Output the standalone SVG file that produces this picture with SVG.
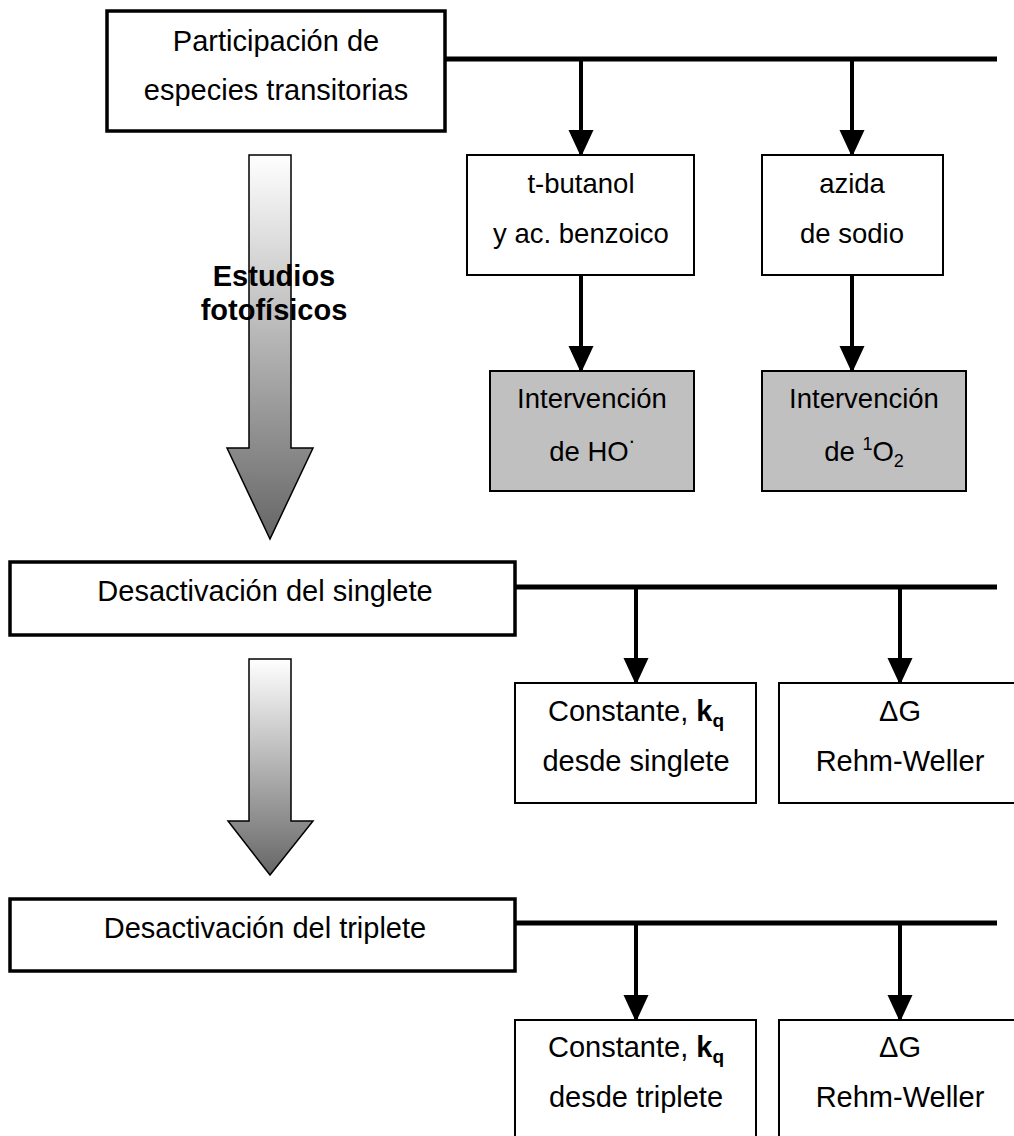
<svg xmlns="http://www.w3.org/2000/svg" width="1014" height="1136" viewBox="0 0 1014 1136">
  <defs>
    <linearGradient id="fade" x1="0" y1="0" x2="0" y2="1">
      <stop offset="0" stop-color="#ffffff"/>
      <stop offset="1" stop-color="#666666"/>
    </linearGradient>
    <marker id="head" viewBox="0 0 25 27" refX="25" refY="12.5" markerWidth="25" markerHeight="27" markerUnits="userSpaceOnUse" orient="auto">
      <path d="M0,0 L27,12.5 L0,25 Z" fill="#000"/>
    </marker>
  </defs>
  <style>
    text { font-family: "Liberation Sans", Arial, sans-serif; fill: #000; }
    .t29 { font-size: 29px; }
    .t27 { font-size: 27.5px; }
    .b { font-weight: bold; }
    .main { fill: #fff; stroke: #000; stroke-width: 3.5; }
    .sub { fill: #fff; stroke: #000; stroke-width: 2; }
    .res { fill: #c0c0c0; stroke: #000; stroke-width: 2; }
    .bus { stroke: #000; stroke-width: 5; fill: none; }
    .drop { stroke: #000; stroke-width: 4; fill: none; marker-end: url(#head); }
    .flow { fill: url(#fade); stroke: #000; stroke-width: 1.5; }
  </style>

  <!-- connectors: horizontal buses and drop arrows -->
  <g id="connectors">
    <line class="bus" x1="445" y1="59" x2="997" y2="59"/>
    <line class="drop" x1="581" y1="59" x2="581" y2="155"/>
    <line class="drop" x1="852" y1="59" x2="852" y2="155"/>
    <line class="drop" x1="581" y1="275" x2="581" y2="371"/>
    <line class="drop" x1="852" y1="275" x2="852" y2="371"/>

    <line class="bus" x1="515" y1="587" x2="997" y2="587"/>
    <line class="drop" x1="636" y1="587" x2="636" y2="683"/>
    <line class="drop" x1="900" y1="587" x2="900" y2="683"/>

    <line class="bus" x1="515" y1="923" x2="997" y2="923"/>
    <line class="drop" x1="636" y1="923" x2="636" y2="1020"/>
    <line class="drop" x1="900" y1="923" x2="900" y2="1020"/>
  </g>

  <!-- shaded progress arrows -->
  <g id="flow1">
    <polygon class="flow" points="249,155 291,155 291,448 313,448 270,539 227,448 249,448"/>
    <text class="t29 b" x="274" y="286" text-anchor="middle">Estudios</text>
    <text class="t29 b" x="274" y="320" text-anchor="middle">fotofísicos</text>
  </g>
  <g id="flow2">
    <polygon class="flow" points="249,659 291,659 291,821 313,821 270,875 228,821 249,821"/>
  </g>

  <!-- section 1 -->
  <g id="transitorias">
    <rect class="main" x="107" y="11" width="338" height="120"/>
    <text class="t29" x="276" y="51" text-anchor="middle">Participación de</text>
    <text class="t29" x="276" y="100" text-anchor="middle">especies transitorias</text>
  </g>
  <g id="butanol">
    <rect class="sub" x="467" y="155" width="227" height="120"/>
    <text class="t27" x="581" y="193" text-anchor="middle">t-butanol</text>
    <text class="t27" x="581" y="243" text-anchor="middle">y ac. benzoico</text>
  </g>
  <g id="azida">
    <rect class="sub" x="762" y="155" width="181" height="120"/>
    <text class="t27" x="852" y="193" text-anchor="middle">azida</text>
    <text class="t27" x="852" y="243" text-anchor="middle">de sodio</text>
  </g>
  <g id="hidroxilo">
    <rect class="res" x="490" y="371" width="204" height="120"/>
    <text class="t27" x="592" y="408" text-anchor="middle">Intervención</text>
    <text class="t27" x="592" y="461" text-anchor="middle">de HO<tspan font-size="22" dy="-18">.</tspan></text>
  </g>
  <g id="singulete-oxigeno">
    <rect class="res" x="762" y="371" width="204" height="120"/>
    <text class="t27" x="864" y="408" text-anchor="middle">Intervención</text>
    <text class="t27" x="864" y="461" text-anchor="middle">de <tspan font-size="18" dy="-11">1</tspan><tspan dy="11">O</tspan><tspan font-size="18" dy="6">2</tspan></text>
  </g>

  <!-- section 2 -->
  <g id="singlete">
    <rect class="main" x="10" y="562" width="505" height="73"/>
    <text class="t29" x="265" y="601" text-anchor="middle">Desactivación del singlete</text>
  </g>
  <g id="kq-singlete">
    <rect class="sub" x="515" y="683" width="241" height="120"/>
    <text class="t29" x="636" y="721" text-anchor="middle">Constante, <tspan class="b">k</tspan><tspan class="b" font-size="19" dy="6">q</tspan></text>
    <text class="t29" x="636" y="771" text-anchor="middle">desde singlete</text>
  </g>
  <g id="dg-singlete">
    <rect class="sub" x="779" y="683" width="244" height="120"/>
    <text class="t29" x="900" y="721" text-anchor="middle">ΔG</text>
    <text class="t29" x="900" y="771" text-anchor="middle">Rehm-Weller</text>
  </g>

  <!-- section 3 -->
  <g id="triplete">
    <rect class="main" x="10" y="899" width="505" height="72"/>
    <text class="t29" x="265" y="938" text-anchor="middle">Desactivación del triplete</text>
  </g>
  <g id="kq-triplete">
    <rect class="sub" x="515" y="1020" width="241" height="130"/>
    <text class="t29" x="636" y="1057" text-anchor="middle">Constante, <tspan class="b">k</tspan><tspan class="b" font-size="19" dy="6">q</tspan></text>
    <text class="t29" x="636" y="1107" text-anchor="middle">desde triplete</text>
  </g>
  <g id="dg-triplete">
    <rect class="sub" x="779" y="1020" width="244" height="130"/>
    <text class="t29" x="900" y="1057" text-anchor="middle">ΔG</text>
    <text class="t29" x="900" y="1107" text-anchor="middle">Rehm-Weller</text>
  </g>
</svg>
